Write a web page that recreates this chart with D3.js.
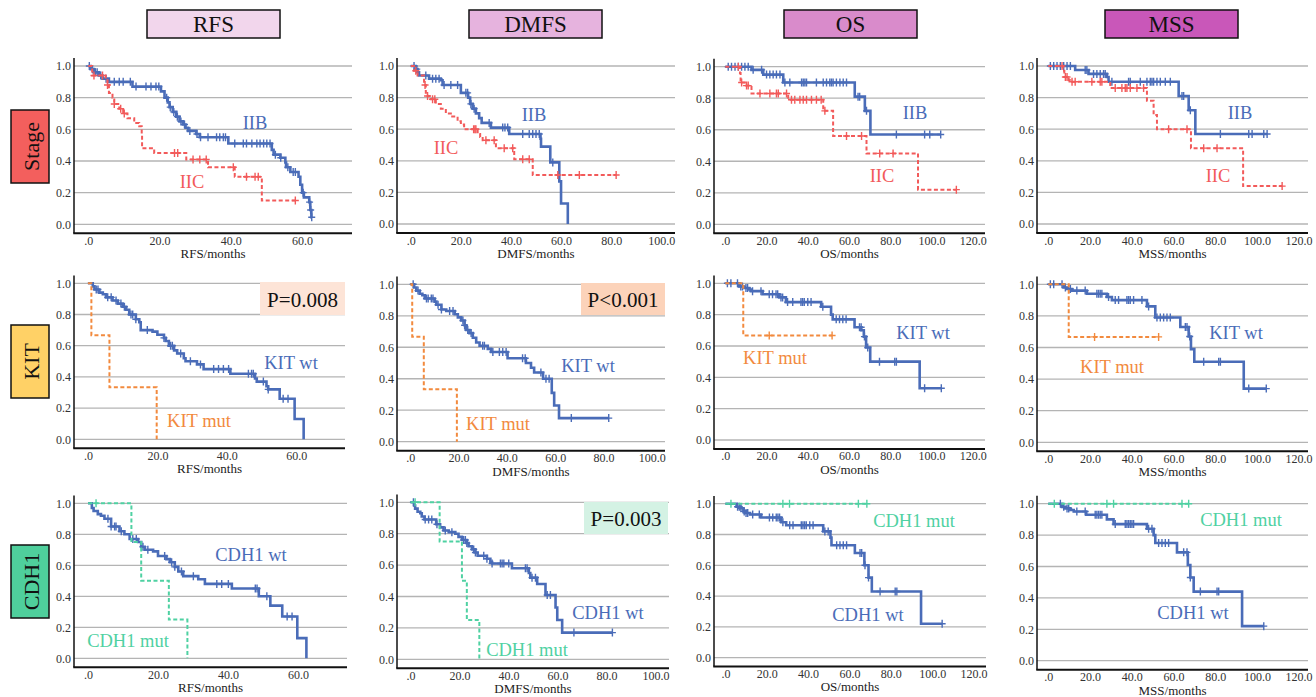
<!DOCTYPE html>
<html>
<head>
<meta charset="utf-8">
<script src="https://cdn.jsdelivr.net/npm/d3@7"></script>
<style>
  body { margin: 0; background: #fff; }
  svg { display: block; font-family: "Liberation Serif", "Times New Roman", serif; }
</style>
</head>
<body>
<svg width="1316" height="697"></svg>
<script>
// ---------- data ----------
const measures = ["RFS", "DMFS", "OS", "MSS"];
const factors = ["Stage", "KIT", "CDH1"];
const groupNames = [["IIB", "IIC"], ["KIT wt", "KIT mut"], ["CDH1 wt", "CDH1 mut"]];
const yTicks = [0, 0.2, 0.4, 0.6, 0.8, 1.0];
const xTicks = {
  RFS: [0, 20, 40, 60],
  DMFS: [0, 20, 40, 60, 80, 100],
  OS: [0, 20, 40, 60, 80, 100, 120],
  MSS: [0, 20, 40, 60, 80, 100, 120]
};
const pValues = [
  { row: 1, col: 0, text: "P=0.008" },
  { row: 1, col: 1, text: "P<0.001" },
  { row: 2, col: 1, text: "P=0.003" }
];

// each curve: steps [month, survival after drop], censored months
// RFS, stage
const rfsIIB = [[0.7,0.98],[1.6,0.96],[3.0,0.94],[4.0,0.92],[5.8,0.90],[12.4,0.87],[20.4,0.84],[21.4,0.80],[22.3,0.77],[22.8,0.74],[23.7,0.71],[24.7,0.68],[25.6,0.65],[26.6,0.63],[27.3,0.61],[28.0,0.59],[30.3,0.57],[31.3,0.55],[39.3,0.51],[51.5,0.47],[52.0,0.44],[53.9,0.42],[55.3,0.39],[55.5,0.36],[56.7,0.33],[59.0,0.30],[59.5,0.25],[60.0,0.20],[60.5,0.17],[62.0,0.14],[62.3,0.09],[62.6,0.045]];
const rfsIIBc = [0.3,1.2,2.0,2.5,3.5,5.0,7.3,8.7,9.8,11.8,13.4,16.2,17.6,19.0,19.8,22.0,23.0,24.0,25.0,26.0,27.0,28.5,30.5,31.5,33.6,36.0,36.9,37.9,38.5,41.1,43.5,44.4,45.9,47.3,48.2,49.2,50.1,51.0,52.5,54.0,56.0,57.5,58.1,60.3,62.1,62.4,62.7];
const rfsIIC = [[1.1,0.94],[4.9,0.92],[5.4,0.88],[5.8,0.83],[6.8,0.80],[7.3,0.76],[8.7,0.73],[9.8,0.70],[11.0,0.67],[12.9,0.64],[14.3,0.62],[15.0,0.57],[15.1,0.48],[18.5,0.45],[27.5,0.41],[33.6,0.36],[41.1,0.30],[48.7,0.15]];
const rfsIICc = [1.6,4.0,5.4,7.3,9.1,10.1,24.2,25.1,29.4,31.3,33.1,40.7,44.4,46.8,47.7,58.1];
// DMFS, stage
const dmfsIIB = [[2.0,0.98],[2.7,0.96],[3.3,0.94],[7.3,0.92],[12.0,0.91],[12.7,0.88],[20.0,0.83],[22.9,0.80],[23.7,0.76],[24.7,0.73],[26.0,0.70],[27.3,0.67],[28.3,0.64],[32.0,0.61],[39.3,0.57],[51.8,0.54],[52.0,0.49],[55.7,0.39],[59.3,0.27],[60.0,0.13],[62.7,0.0]];
const dmfsIIBc = [1.3,2.4,6.0,8.7,10.0,11.3,13.3,16.0,18.7,22.0,22.7,24.0,25.3,31.3,36.7,37.6,38.7,44.7,47.3,48.7,50.0,51.3,56.7];
const dmfsIIC = [[1.3,0.97],[2.7,0.94],[5.3,0.88],[6.0,0.83],[6.7,0.81],[8.0,0.79],[10.0,0.76],[12.0,0.73],[14.0,0.70],[16.0,0.68],[18.7,0.65],[20.0,0.63],[21.3,0.60],[26.7,0.57],[27.7,0.55],[28.7,0.53],[34.0,0.48],[41.3,0.41],[48.7,0.31]];
const dmfsIICc = [2.0,5.7,6.7,8.7,9.6,25.1,25.6,26.0,30.0,33.3,37.3,40.7,44.7,47.3,58.7,67.3,82.0];
// OS, stage
const osIIB = [[12.7,0.98],[18.4,0.95],[28.1,0.90],[62.8,0.81],[67.7,0.72],[70.4,0.57]];
const osIIBc = [1.4,3,4.7,6.3,7.9,9.5,11.1,13.5,17.6,20,21.6,23.2,24.8,26.5,28.9,31.3,37,37.8,38.6,39.4,44.2,47.5,49.1,50.7,51.5,52.3,53.9,55.6,57.2,58.8,64.4,65.2,68.5,83,96.7,99.2,104.5];
const osIIC = [[7.1,0.96],[7.4,0.90],[9.5,0.88],[12.7,0.83],[30.5,0.79],[47.5,0.72],[52.3,0.56],[68.5,0.45],[93.5,0.22]];
const osIICc = [6.3,7.9,10.3,11.1,16.8,21.6,24.8,25.7,29.7,32.1,33.7,36.2,37.8,39.4,41.8,44.2,46.5,48.3,58.8,66.1,74.9,81.4,112.1];
// MSS, stage
const mssIIB = [[12.9,0.975],[19.3,0.95],[28.1,0.93],[28.9,0.90],[62.5,0.81],[67.3,0.72],[70.5,0.57]];
const mssIIBc = [1,2.6,4.2,5.8,7.4,9,10.6,17.7,18.5,21.7,23.3,24.9,26.5,27.3,30.5,38.5,39.3,44.1,47.3,48.9,49.7,50.5,52.1,53.7,56.1,58.5,64.1,64.9,68.1,82.5,96.1,97.7,103.3,104.9];
const mssIIC = [[7.0,0.97],[7.7,0.93],[9.8,0.91],[10.6,0.90],[29.7,0.86],[47.3,0.78],[50.5,0.69],[52.1,0.60],[68.4,0.48],[93.4,0.24]];
const mssIICc = [6.6,8.2,9.0,11.4,12.9,20.9,24.9,25.7,32.1,35.3,36.9,37.7,39.3,42.5,45.7,57.7,66.5,74.5,80.9,112.1];

// RFS, KIT
const rfsKitWt = [[1.4,0.98],[1.9,0.96],[3.3,0.94],[4.3,0.93],[5.2,0.91],[7.1,0.89],[8.6,0.87],[10.0,0.85],[11.0,0.83],[11.9,0.80],[13.8,0.77],[14.8,0.75],[15.2,0.70],[18.6,0.69],[20.0,0.67],[21.9,0.65],[22.4,0.63],[23.3,0.60],[24.8,0.57],[25.7,0.55],[27.6,0.52],[28.1,0.50],[31.4,0.48],[33.3,0.45],[41.0,0.42],[48.1,0.39],[48.6,0.37],[51.4,0.34],[51.9,0.32],[55.2,0.26],[59.5,0.13],[62.1,0.0]];
const rfsKitWtc = [2.4,2.9,5.7,6.7,8.1,9.5,10.5,12.4,12.9,13.8,17.1,21.9,23.8,24.3,26.7,29.5,32.4,36.2,37.6,39.0,40.5,46.2,47.1,47.6,50.5,51.9,56.2,57.6];
const rfsKitMut = [[1.0,0.667],[6.2,0.333],[19.8,0.0]];
const rfsKitMutc = [];
// DMFS, KIT
const dmfsKitWt = [[1.6,0.98],[2.5,0.96],[3.9,0.94],[5.0,0.93],[6.0,0.91],[10.1,0.89],[10.8,0.87],[12.9,0.84],[14.9,0.83],[18.4,0.81],[19.7,0.79],[21.1,0.77],[22.5,0.74],[23.2,0.71],[24.5,0.69],[25.9,0.66],[27.3,0.63],[28.7,0.61],[32.1,0.59],[33.5,0.57],[40.3,0.53],[47.9,0.50],[50.0,0.47],[51.3,0.44],[55.0,0.40],[58.6,0.31],[59.6,0.23],[61.6,0.15]];
const dmfsKitWtc = [1.2,3.2,6.7,7.4,8.7,9.4,11.5,12.9,16.3,17.7,21.8,22.5,23.8,25.2,30.0,30.7,34.2,36.9,38.3,39.7,46.5,47.6,54.1,56.2,57.5,66.7,82.2];
const dmfsKitMut = [[0.8,0.667],[5.6,0.333],[19.3,0.0]];
const dmfsKitMutc = [];
// OS, KIT
const osKitWt = [[6.7,0.98],[9.1,0.97],[11.6,0.96],[12.4,0.95],[18.1,0.93],[26.2,0.91],[29.4,0.88],[46.5,0.85],[51.3,0.80],[52.1,0.77],[62.7,0.72],[66.0,0.70],[67.2,0.66],[68.3,0.59],[70.3,0.50],[94.3,0.33]];
const osKitWtc = [1.0,2.7,5.9,7.5,8.3,10.0,10.8,13.2,17.3,21.3,22.9,24.6,25.4,27.0,27.8,30.2,32.7,36.7,37.5,38.3,40.0,41.6,47.3,53.8,55.4,57.0,58.6,65.1,65.9,67.5,69.1,74.8,82.2,83.0,96.7,104.8];
const osKitMut = [[8.7,0.667]];
const osKitMutc = [21.3,51.8];
// MSS, KIT
const mssKitWt = [[7.4,0.98],[9.0,0.97],[11.4,0.96],[18.5,0.94],[28.1,0.92],[30.5,0.90],[47.3,0.86],[51.3,0.79],[63.3,0.73],[67.3,0.67],[68.4,0.59],[70.0,0.51],[93.7,0.34]];
const mssKitWtc = [1.0,2.6,6.6,8.2,9.8,10.6,13.7,17.7,23.3,24.1,24.9,25.7,28.9,32.1,33.7,37.7,38.5,39.3,40.9,44.9,48.1,52.1,53.7,55.3,56.9,58.5,65.7,66.5,67.8,74.5,81.7,82.5,96.1,104.5];
const mssKitMut = [[9.8,0.667]];
const mssKitMutc = [22.2,52.9];

// RFS, CDH1
const rfsCdhWt = [[1.1,0.97],[1.6,0.95],[2.8,0.93],[3.7,0.92],[4.7,0.90],[6.6,0.85],[9.0,0.82],[10.4,0.80],[11.9,0.77],[14.3,0.75],[15.2,0.72],[16.2,0.70],[18.6,0.69],[20.0,0.66],[22.4,0.64],[23.4,0.62],[24.8,0.59],[25.8,0.56],[27.2,0.53],[31.5,0.51],[33.4,0.48],[41.1,0.45],[48.8,0.40],[52.1,0.34],[55.5,0.27],[59.8,0.13],[62.4,0.0]];
const rfsCdhWtc = [5.7,6.6,7.6,8.0,9.5,12.8,13.8,15.7,17.1,21.9,23.9,24.8,26.7,30.1,36.8,38.2,40.1,47.8,48.3,51.1,56.9,58.3];
const rfsCdhMut = [[12.4,0.75],[15.2,0.50],[23.1,0.25],[28.4,0.0]];
const rfsCdhMutc = [2.3];
// DMFS, CDH1
const dmfsCdhWt = [[1.5,0.98],[1.9,0.96],[2.9,0.94],[4.0,0.93],[4.6,0.91],[5.7,0.89],[10.5,0.86],[12.1,0.84],[13.5,0.82],[15.6,0.81],[18.3,0.80],[19.6,0.78],[21.0,0.76],[23.0,0.74],[23.7,0.72],[25.1,0.70],[26.5,0.68],[27.4,0.66],[31.2,0.64],[32.6,0.62],[33.3,0.61],[41.4,0.58],[48.3,0.55],[48.9,0.52],[51.7,0.48],[55.1,0.41],[59.2,0.33],[59.9,0.25],[61.9,0.17]];
const dmfsCdhWtc = [1.2,6.0,7.4,8.7,10.8,14.2,16.9,21.7,22.4,23.0,25.8,26.5,29.9,31.2,33.3,36.7,37.4,38.1,40.1,46.9,47.6,49.6,51.0,55.8,57.1,66.7,82.4];
const dmfsCdhMut = [[11.9,0.75],[21.0,0.50],[23.0,0.25],[28.1,0.0]];
const dmfsCdhMutc = [1.9];
// OS, CDH1
const osCdhWt = [[5.4,0.98],[7.5,0.97],[8.7,0.95],[10.0,0.94],[11.9,0.93],[17.3,0.91],[27.0,0.88],[29.4,0.86],[47.3,0.82],[50.8,0.78],[51.3,0.73],[62.6,0.68],[67.2,0.60],[69.2,0.52],[70.8,0.43],[94.6,0.22]];
const osCdhWtc = [5.9,6.7,7.5,9.1,10.0,10.8,13.2,16.4,21.3,22.9,24.6,25.4,26.2,27.8,31.1,32.7,36.7,37.5,38.3,39.1,40.8,42.4,48.1,49.7,53.8,55.4,57.0,58.6,65.1,65.9,67.5,69.2,74.8,82.1,82.9,104.8];
const osCdhMut = [];
const osCdhMutc = [2.7,27.8,31.0,64.3,68.4];
// MSS, CDH1
const mssCdhWt = [[6.6,0.98],[8.2,0.97],[10.6,0.96],[12.2,0.95],[18.2,0.93],[28.1,0.90],[31.3,0.87],[47.3,0.84],[50.5,0.80],[51.3,0.75],[61.7,0.69],[66.9,0.61],[68.1,0.53],[69.7,0.44],[92.9,0.22]];
const mssCdhWtc = [5.8,7.4,9.0,9.8,13.7,17.7,22.5,23.3,24.1,24.9,25.7,32.1,36.9,37.7,38.5,39.3,40.1,40.9,48.1,49.7,52.9,54.5,56.1,57.7,64.9,66.5,68.1,72.9,80.9,81.7,103.3];
const mssCdhMut = [];
const mssCdhMutc = [2.9,28.1,31.3,64.1,67.3];

// curves per panel: [row][col] -> [[steps, censors] for group 0, group 1]
const curveTable = [
  [[[rfsIIB, rfsIIBc], [rfsIIC, rfsIICc]], [[dmfsIIB, dmfsIIBc], [dmfsIIC, dmfsIICc]],
   [[osIIB, osIIBc], [osIIC, osIICc]], [[mssIIB, mssIIBc], [mssIIC, mssIICc]]],
  [[[rfsKitWt, rfsKitWtc], [rfsKitMut, rfsKitMutc]], [[dmfsKitWt, dmfsKitWtc], [dmfsKitMut, dmfsKitMutc]],
   [[osKitWt, osKitWtc], [osKitMut, osKitMutc]], [[mssKitWt, mssKitWtc], [mssKitMut, mssKitMutc]]],
  [[[rfsCdhWt, rfsCdhWtc], [rfsCdhMut, rfsCdhMutc]], [[dmfsCdhWt, dmfsCdhWtc], [dmfsCdhMut, dmfsCdhMutc]],
   [[osCdhWt, osCdhWtc], [osCdhMut, osCdhMutc]], [[mssCdhWt, mssCdhWtc], [mssCdhMut, mssCdhMutc]]]
];

// ---------- layout & style ----------
const xDomain = { RFS: [-4, 74], DMFS: [-5.5, 105.5], OS: [-5.5, 126], MSS: [-5.4, 124.5] };
const colLeft = [74, 397, 714, 1037];
const panelRight = [[352, 675, 985, 1308], [345, 665, 985, 1308], [347, 669, 986, 1308]];
// y pixel of survival 1.0 and 0.0
const panelY = [
  [[66, 224.3], [66, 224], [66.7, 224.3], [66, 224]],
  [[283.3, 439.3], [284.3, 441.7], [283.3, 440], [284.3, 442.3]],
  [[503.3, 658.3], [502.3, 659.3], [503.7, 657.7], [503.7, 660.7]]
];
const headerX = [147, 469, 784, 1105];
const headerFill = ["#f2d6ec", "#e6b3de", "#d98bcb", "#c957b9"];
const factorY = [110, 325, 545];
const factorFill = ["#f35f5d", "#ffd166", "#4fcf9c"];
const groupColor = [["#4a6cb8", "#f25a5a"], ["#4a6cb8", "#f28a3e"], ["#4a6cb8", "#4fd1a2"]];
const pBox = { "1,0": [260, 282, 85, 33, "#fde4d7"], "1,1": [581, 283, 84, 32, "#fcd3ba"], "2,1": [584, 502, 84, 32, "#d4f2e4"] };
// label centres [x, y] per panel, groups 0 and 1
const labelPos = [
  [[[255, 123], [192, 182]], [[534, 115], [446, 148]], [[915, 113], [882, 176]], [[1240, 113], [1218, 176]]],
  [[[291, 363], [199, 421]], [[588, 366], [498, 424]], [[923, 333], [775, 358]], [[1236, 333], [1112, 367]]],
  [[[251, 555], [128, 641]], [[608, 613], [527, 650]], [[868, 615], [914, 521]], [[1193, 613], [1241, 520]]]
];

const svg = d3.select("svg");

// column headers
measures.forEach((m, c) => {
  svg.append("rect").attr("x", headerX[c]).attr("y", 10).attr("width", 133).attr("height", 28)
    .attr("fill", headerFill[c]).attr("stroke", "#111").attr("stroke-width", 1.5);
  svg.append("text").attr("x", headerX[c] + 66.5).attr("y", 24).attr("text-anchor", "middle")
    .attr("dominant-baseline", "central").attr("font-size", 23).attr("fill", "#111").text(m);
});

// row headers
factors.forEach((f, r) => {
  svg.append("rect").attr("x", 11).attr("y", factorY[r]).attr("width", 38).attr("height", 73)
    .attr("fill", factorFill[r]).attr("stroke", "#111").attr("stroke-width", 1.5);
  svg.append("text")
    .attr("transform", "translate(" + 31 + "," + (factorY[r] + 36.5) + ")rotate(-90)")
    .attr("text-anchor", "middle").attr("dominant-baseline", "central")
    .attr("font-size", 22).attr("fill", "#111").text(f);
});

function survAt(steps, t) {
  let s = 1;
  steps.forEach(([ti, v]) => { if (ti <= t) s = v; });
  return s;
}

function stepPoints(steps, cens) {
  const lastStep = steps.length ? steps[steps.length - 1][0] : 0;
  const end = Math.max(lastStep, cens.length ? d3.max(cens) : 0);
  const pts = [[0, 1]];
  let s = 1;
  steps.forEach(([t, v]) => { pts.push([t, s]); pts.push([t, v]); s = v; });
  pts.push([end, s]);
  return pts;
}

factors.forEach((f, r) => {
  measures.forEach((m, c) => {
    const left = colLeft[c], right = panelRight[r][c];
    const x = d3.scaleLinear().domain(xDomain[m]).range([left, right]);
    const y = d3.scaleLinear().domain([0, 1]).range([panelY[r][c][1], panelY[r][c][0]]);
    const g = svg.append("g");

    // grid lines
    g.selectAll(".grid").data(yTicks).enter().append("line")
      .attr("x1", left).attr("x2", right)
      .attr("y1", d => y(d)).attr("y2", d => y(d))
      .attr("stroke", "#b4b4b4").attr("stroke-width", 1.3);

    // y axis labels
    const yAxis = g.append("g").attr("transform", "translate(" + left + ",0)")
      .call(d3.axisLeft(y).tickValues(yTicks).tickSize(0).tickPadding(3).tickFormat(d3.format(".1f")));
    yAxis.attr("font-family", null).attr("font-size", 12);
    yAxis.select(".domain").remove();
    yAxis.selectAll("text").attr("fill", "#333");

    // x axis labels
    const bottom = y(-0.057);
    const xAxis = g.append("g").attr("transform", "translate(0," + bottom + ")")
      .call(d3.axisBottom(x).tickValues(xTicks[m]).tickSize(0).tickPadding(3)
        .tickFormat(d => d === 0 ? ".0" : d.toFixed(1)));
    xAxis.attr("font-family", null).attr("font-size", 12);
    xAxis.select(".domain").remove();
    xAxis.selectAll("text").attr("fill", "#333");

    // axis lines
    g.append("line").attr("x1", left).attr("x2", left).attr("y1", y(1.05)).attr("y2", bottom)
      .attr("stroke", "#111").attr("stroke-width", 1.5);
    g.append("line").attr("x1", left - 0.75).attr("x2", right).attr("y1", bottom).attr("y2", bottom)
      .attr("stroke", "#111").attr("stroke-width", 2);

    // axis title
    g.append("text").attr("x", (left + right) / 2).attr("y", bottom + 25)
      .attr("text-anchor", "middle").attr("font-size", 13).attr("fill", "#222")
      .text(m + "/months");

    // p-value box
    const pv = pValues.find(p => p.row === r && p.col === c);
    if (pv) {
      const b = pBox[r + "," + c];
      g.append("rect").attr("x", b[0]).attr("y", b[1]).attr("width", b[2]).attr("height", b[3]).attr("fill", b[4]);
      g.append("text").attr("x", b[0] + b[2] / 2).attr("y", b[1] + b[3] / 2 + 1)
        .attr("text-anchor", "middle").attr("dominant-baseline", "central")
        .attr("font-size", 21).attr("fill", "#111").text(pv.text);
    }

    // curves: group 0 solid, group 1 dashed on top
    const line = d3.line().x(d => x(d[0])).y(d => y(d[1]));
    curveTable[r][c].forEach(([steps, cens], gi) => {
      const col = groupColor[r][gi];
      g.append("path").datum(stepPoints(steps, cens)).attr("d", line)
        .attr("fill", "none").attr("stroke", col)
        .attr("stroke-width", gi === 0 ? 2.6 : 2)
        .attr("stroke-dasharray", gi === 0 ? null : "4,2.5");
      g.selectAll(null).data(cens).enter().append("path")
        .attr("d", t => {
          const px = x(t), py = y(survAt(steps, t));
          return "M" + (px - 3.5) + "," + py + "h7M" + px + "," + (py - 4) + "v8";
        })
        .attr("stroke", col).attr("stroke-width", 1.4).attr("fill", "none");
    });

    // group labels
    groupNames[r].forEach((name, gi) => {
      const p = labelPos[r][c][gi];
      g.append("text").attr("x", p[0]).attr("y", p[1]).attr("text-anchor", "middle")
        .attr("dominant-baseline", "central").attr("font-size", 18.5)
        .attr("fill", groupColor[r][gi]).text(name);
    });
  });
});
</script>
</body>
</html>
